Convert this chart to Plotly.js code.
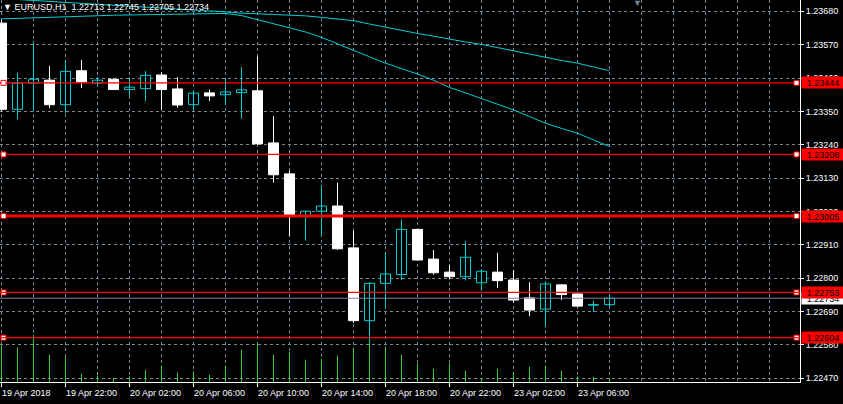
<!DOCTYPE html>
<html><head><meta charset="utf-8">
<script src="https://cdn.plot.ly/plotly-3.0.1.min.js"></script>
<style>html,body{margin:0;padding:0;background:#000;overflow:hidden}#chart{width:843px;height:404px}</style>
</head><body><div id="chart"></div>
<script>
const symbol = 'EURUSD';
const period = 'H1';
const times = ['19 Apr 18:00','19 Apr 19:00','19 Apr 20:00','19 Apr 21:00','19 Apr 22:00','19 Apr 23:00',
 '20 Apr 00:00','20 Apr 01:00','20 Apr 02:00','20 Apr 03:00','20 Apr 04:00','20 Apr 05:00','20 Apr 06:00','20 Apr 07:00',
 '20 Apr 08:00','20 Apr 09:00','20 Apr 10:00','20 Apr 11:00','20 Apr 12:00','20 Apr 13:00','20 Apr 14:00','20 Apr 15:00',
 '20 Apr 16:00','20 Apr 17:00','20 Apr 18:00','20 Apr 19:00','20 Apr 20:00','20 Apr 21:00','20 Apr 22:00','20 Apr 23:00',
 '23 Apr 00:00','23 Apr 01:00','23 Apr 02:00','23 Apr 03:00','23 Apr 04:00','23 Apr 05:00','23 Apr 06:00','23 Apr 07:00','23 Apr 08:00'];
const open  = [1.23641,1.23357,1.23443,1.23453,1.23372,1.23484,1.23443,1.23456,1.23422,1.23425,1.23470,1.23424,1.23372,1.23411,1.23405,1.23412,1.23418,1.23246,1.23144,1.23007,1.23021,1.23038,1.22900,1.22660,1.22783,1.22812,1.22961,1.22863,1.22820,1.22805,1.22785,1.22820,1.22794,1.22735,1.22698,1.22778,1.22748,1.22711,1.22713];
const high  = [1.23651,1.23477,1.23581,1.23500,1.23519,1.23519,1.23463,1.23459,1.23463,1.23483,1.23479,1.23463,1.23420,1.23422,1.23459,1.23496,1.23530,1.23335,1.23155,1.23022,1.23107,1.23115,1.22956,1.22787,1.22886,1.22994,1.22961,1.22893,1.22843,1.22922,1.22830,1.22884,1.22827,1.22787,1.22790,1.22780,1.22750,1.22725,1.22745];
const low   = [1.23350,1.23324,1.23350,1.23361,1.23344,1.23427,1.23433,1.23421,1.23400,1.23384,1.23356,1.23362,1.23354,1.23384,1.23371,1.23326,1.23241,1.23115,1.22939,1.22924,1.22939,1.22893,1.22653,1.22583,1.22700,1.22794,1.22857,1.22812,1.22796,1.22792,1.22759,1.22768,1.22719,1.22675,1.22640,1.22728,1.22706,1.22689,1.22705];
const close = [1.23357,1.23443,1.23456,1.23372,1.23482,1.23447,1.23453,1.23422,1.23430,1.23469,1.23422,1.23371,1.23410,1.23401,1.23414,1.23421,1.23243,1.23141,1.23005,1.23021,1.23038,1.22897,1.22660,1.22783,1.22814,1.22961,1.22860,1.22818,1.22805,1.22869,1.22823,1.22792,1.22728,1.22695,1.22781,1.22746,1.22708,1.22713,1.22734];
const volume = [3800,3460,4730,2730,2460,830,660,430,560,1230,1660,960,1060,730,1630,3230,3800,2730,3030,2230,2330,2630,3430,3950,3530,2730,1830,1330,1830,1130,400,1330,1000,1530,1630,1130,560,530,330];
const maSlow = [1.23722,1.23719,1.23716,1.23712,1.23709,1.23706,1.23702,1.23699,1.23697,1.23694,1.23691,1.23688,1.23684,1.23681,1.23678,1.23674,1.23672,1.23670,1.23668,1.23665,1.23660,1.23655,1.23649,1.23638,1.23627,1.23617,1.23607,1.23598,1.23588,1.23579,1.23571,1.23560,1.23549,1.23539,1.23528,1.23518,1.23509,1.23496,1.23484];
const maFast = [1.23655,1.23657,1.23659,1.23661,1.23663,1.23665,1.23666,1.23667,1.23668,1.23669,1.23670,1.23671,1.23672,1.23672,1.23673,1.23666,1.23653,1.23640,1.23627,1.23612,1.23594,1.23572,1.23552,1.23530,1.23509,1.23492,1.23473,1.23453,1.23429,1.23411,1.23393,1.23374,1.23355,1.23333,1.23311,1.23294,1.23278,1.23256,1.23234];
const levels = [1.23444,1.23208,1.23005,1.22753,1.22604];
const bidPrice = 1.22734;
const xTickIdx = [0,4,8,12,16,20,24,28,32,36];
const xTickLabels = ['19 Apr 2018','19 Apr 22:00','20 Apr 02:00','20 Apr 06:00','20 Apr 10:00','20 Apr 14:00','20 Apr 18:00','20 Apr 22:00','23 Apr 02:00','23 Apr 06:00'];

// ---- styling ----
const BULL = '#00CED1', BEAR = '#FFFFFF', GRID = '#778899', VOL = '#32CD32', RED = '#FF0000';
const FONT = 'Liberation Sans, Arial, sans-serif';
const levelWidth = [1.2,1.2,3,1.2,1.2];
const N = times.length;
const idx = times.map((_, i) => i);
const isBull = idx.map(i => close[i] > open[i]);

function wicks(sel, color) {
  const x = [], y = [];
  idx.forEach(i => { if (isBull[i] === sel) { x.push(i, i, null); y.push(low[i], high[i], null); } });
  return {type:'scatter', mode:'lines', x, y, line:{color, width:1}, hoverinfo:'skip', showlegend:false};
}
const volX = [], volY = [];
idx.forEach(i => { volX.push(i, i, null); volY.push(0, volume[i], null); });

const traces = [
  {type:'scatter', mode:'lines', x:volX, y:volY, yaxis:'y2', line:{color:VOL, width:1}, hoverinfo:'skip'},
  wicks(true, BULL), wicks(false, BEAR),
  {type:'bar', x:idx, base:idx.map(i => Math.min(open[i], close[i])), y:idx.map(i => Math.abs(close[i]-open[i])),
   width:0.625, marker:{color:isBull.map(b => b ? '#000000' : BEAR), line:{color:isBull.map(b => b ? BULL : BEAR), width:1}}, hoverinfo:'skip'},
  {type:'scatter', mode:'lines', x:idx, y:maSlow, line:{color:BULL, width:1}, hoverinfo:'skip'},
  {type:'scatter', mode:'lines', x:idx, y:maFast, line:{color:BULL, width:1}, hoverinfo:'skip'}
];

const shapes = [];
shapes.push({type:'line', xref:'paper', x0:0, x1:1, yref:'y', y0:bidPrice, y1:bidPrice, line:{color:GRID, width:1}});
levels.forEach((lv, k) => {
  const line = {type:'line', xref:'paper', x0:0, x1:1, yref:'y', y0:lv, y1:lv, line:{color:RED, width:levelWidth[k]}};
  const sq = a => ({type:'rect', xref:'paper', xsizemode:'pixel', xanchor:a, x0:a ? -6 : 1, x1:a ? -1 : 6,
    yref:'y', ysizemode:'pixel', yanchor:lv, y0:-2.5, y1:2.5, fillcolor:'#FFFFFF', line:{color:RED, width:1}});
  if (k < 3) { shapes.push(line, sq(0), sq(1)); } else { shapes.push(sq(0), sq(1), line); }
});

const annotations = [];
annotations.push({xref:'paper', x:1, xanchor:'left', xshift:1, yref:'y', y:bidPrice, yanchor:'middle',
  text:bidPrice.toFixed(5), showarrow:false, bgcolor:'#FFFFFF', font:{color:'#000', size:9, family:FONT},
  width:42, height:11, borderpad:0, align:'center'});
levels.forEach(lv => annotations.push({xref:'paper', x:1, xanchor:'left', xshift:1, yref:'y', y:lv, yanchor:'middle',
  text:lv.toFixed(5), showarrow:false, bgcolor:RED, font:{color:'#000', size:9, family:FONT},
  width:42, height:11, borderpad:0, align:'center'}));
xTickIdx.forEach((xi, k) => annotations.push({xref:'x', x:xi, xanchor:'left', xshift:-1, yref:'paper', y:0, yanchor:'top', yshift:-5,
  text:xTickLabels[k], showarrow:false, borderpad:0, font:{color:'#fff', size:9, family:FONT}}));
annotations.push({xref:'paper', x:0, xanchor:'left', xshift:2, yref:'paper', y:1, yanchor:'top', yshift:-1,
  text:'▼ ' + symbol + ',' + period + '\u00a0\u00a0' + [open[N-1], high[N-1], low[N-1], close[N-1]].map(v => v.toFixed(5)).join(' '),
  showarrow:false, borderpad:0, font:{color:'#fff', size:9, family:FONT}});
annotations.push({xref:'paper', x:637/800, xanchor:'center', yref:'paper', y:1, yanchor:'top', yshift:3,
  text:'▼', showarrow:false, borderpad:0, font:{color:GRID, size:9, family:FONT}});

const minorVals = [];
for (let v = 0; v <= 48; v += 2) minorVals.push(v);

const layout = {
  width:843, height:404, margin:{l:0, r:43, t:0, b:22},
  paper_bgcolor:'#000', plot_bgcolor:'#000', showlegend:false, barmode:'overlay', hovermode:false,
  font:{family:FONT, size:9, color:'#fff'},
  xaxis:{range:[-0.09375, 49.90625], tickmode:'array', tickvals:xTickIdx, showticklabels:false,
    ticks:'outside', ticklen:4, tickcolor:'#fff', tickwidth:1,
    showgrid:true, gridcolor:GRID, griddash:'3px,3px', gridwidth:1,
    minor:{tickmode:'array', tickvals:minorVals, showgrid:true, gridcolor:GRID, griddash:'3px,3px', gridwidth:1, ticks:''},
    showline:true, linecolor:'#fff', linewidth:1, zeroline:false, fixedrange:true},
  yaxis:{range:[1.224578, 1.2371726], side:'right', tickmode:'linear', tick0:1.2247, dtick:0.0011, tickformat:'.5f',
    ticks:'outside', ticklen:3, tickcolor:'#fff', tickwidth:1, tickfont:{color:'#fff', size:9, family:FONT},
    showgrid:true, gridcolor:GRID, griddash:'3px,3px', gridwidth:1,
    showline:true, linecolor:'#fff', linewidth:1, zeroline:false, fixedrange:true},
  yaxis2:{overlaying:'y', range:[0, 38200], visible:false, fixedrange:true},
  shapes, annotations
};
Plotly.newPlot('chart', traces, layout, {displayModeBar:false, staticPlot:true});
</script></body></html>
